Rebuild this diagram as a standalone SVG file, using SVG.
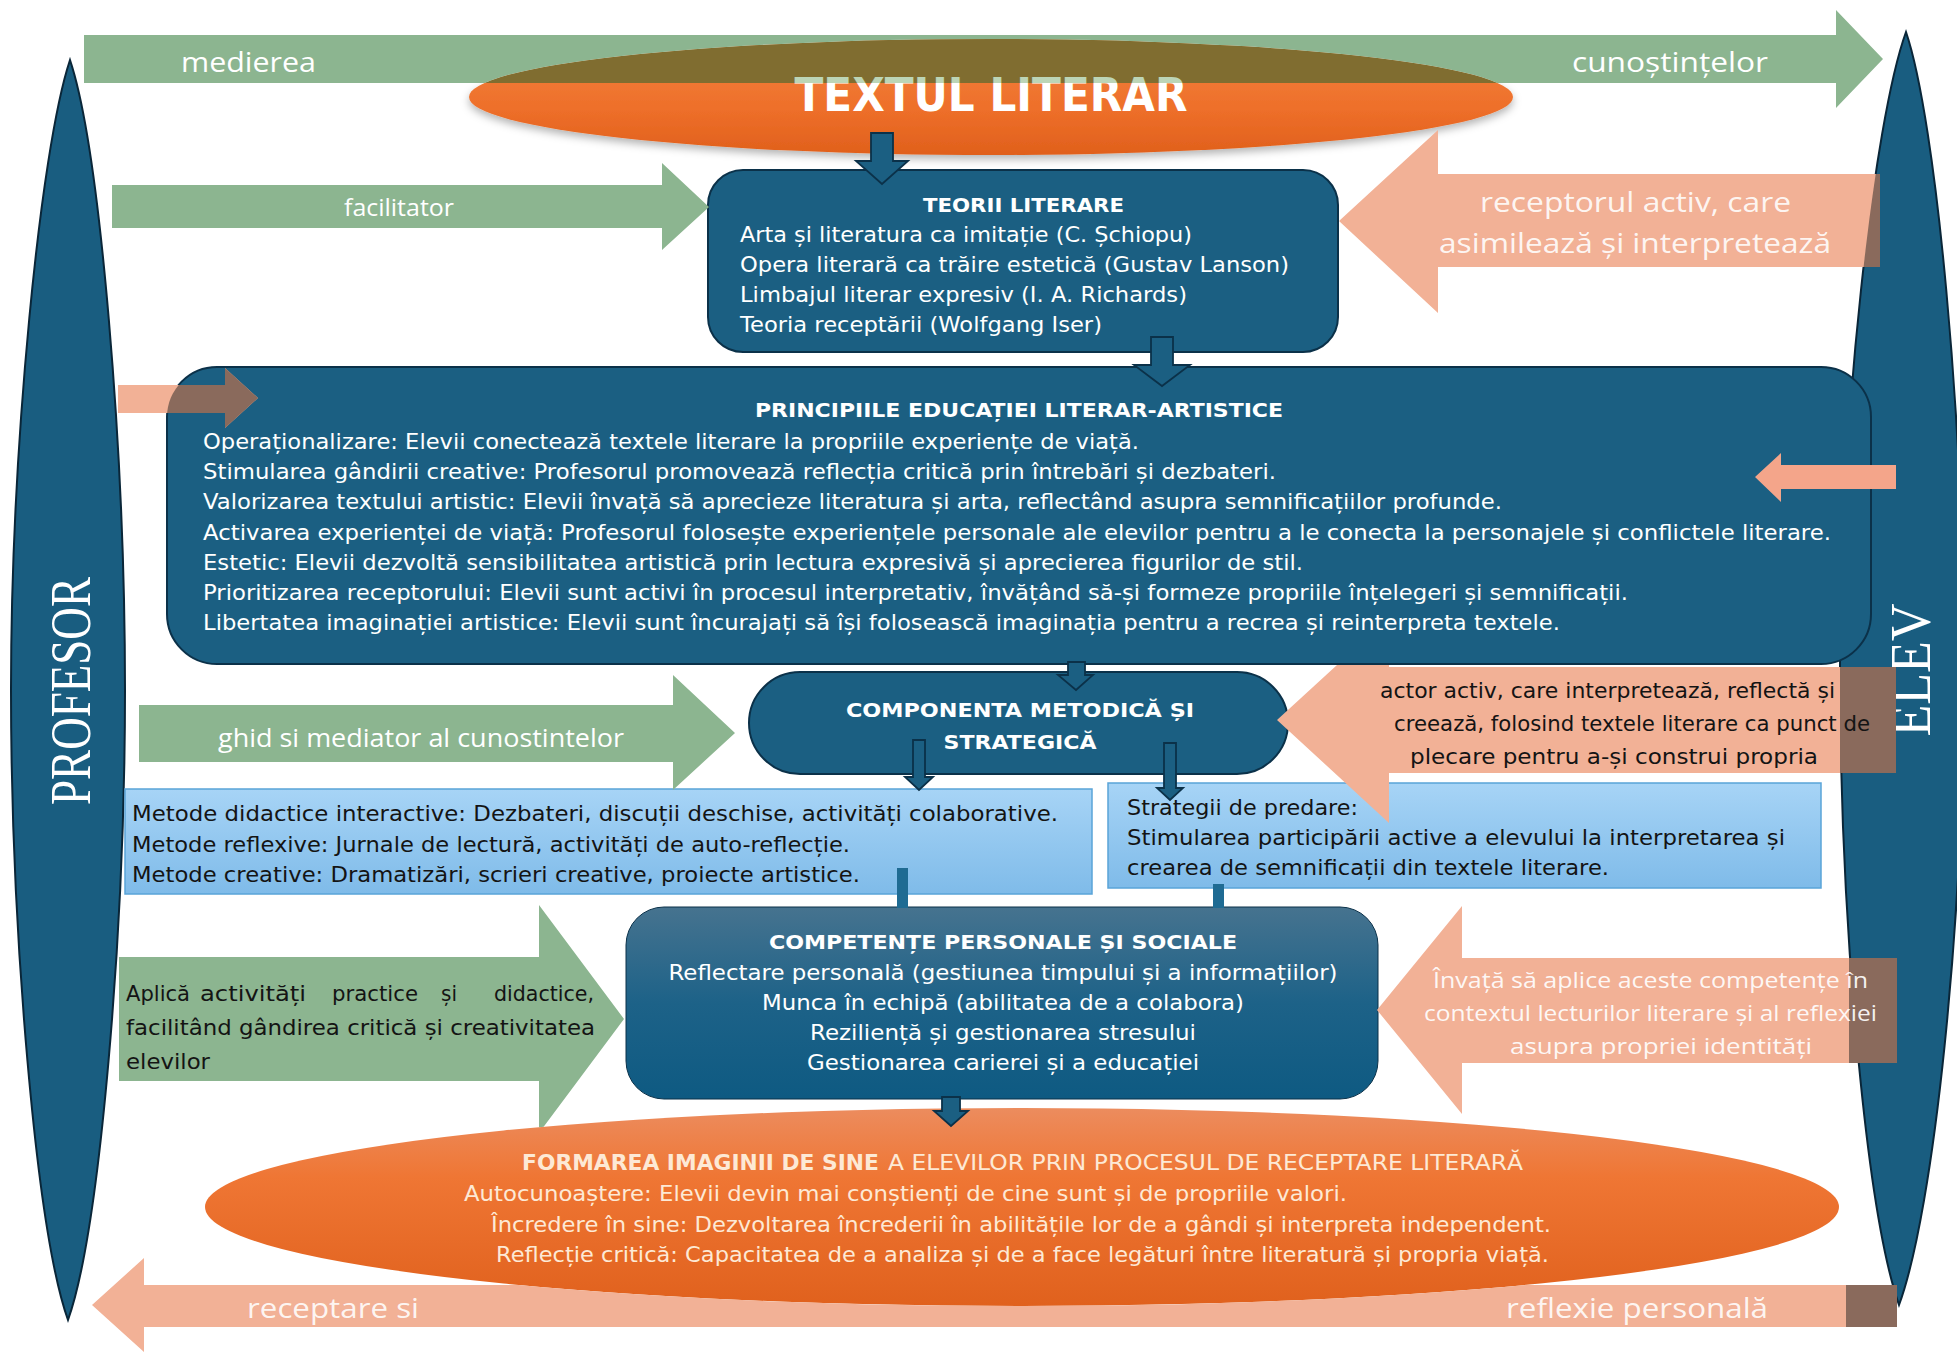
<svg xmlns="http://www.w3.org/2000/svg" width="1957" height="1352" viewBox="0 0 1957 1352">
<defs>
<style>
.dk{fill:#1b5f82;stroke:#0b3149;stroke-width:2}
.sp{fill:#195d80;stroke:#0a2638;stroke-width:2}
.lb{fill:url(#lbg);stroke:#5aa4d8;stroke-width:1.5}
.gr{fill:#8cb590}
.pe{fill:#f2b196}
.pe2{fill:#f4a58a}
.br{fill:#8a6a5c}
.ar{fill:#1b5f82;stroke:#0b3149;stroke-width:1.8}
.bar{fill:#1f6b93}
.t{font-family:"DejaVu Sans","Liberation Sans",sans-serif}
.w{fill:#ffffff}
.d{fill:#141414}
.cr{fill:#fde9d5}
.b{font-weight:bold}
.lab{font-family:"Open Sans","DejaVu Sans",sans-serif;fill:#ffffff}
.sf{font-family:"Liberation Serif","DejaVu Serif",serif;fill:#ffffff}
</style>
<linearGradient id="lbg" x1="0" y1="0" x2="0" y2="1"><stop offset="0" stop-color="#a7d4f6"/><stop offset="1" stop-color="#7fbbe9"/></linearGradient>
<linearGradient id="cg" x1="0" y1="0" x2="0" y2="1"><stop offset="0" stop-color="#46738f"/><stop offset="0.5" stop-color="#1d6288"/><stop offset="1" stop-color="#0e5a82"/></linearGradient>
<linearGradient id="og" x1="0" y1="0" x2="0" y2="1"><stop offset="0" stop-color="#f2843f"/><stop offset="0.6" stop-color="#ee6f2a"/><stop offset="1" stop-color="#e0601c"/></linearGradient>
<linearGradient id="og2" x1="0" y1="0" x2="0" y2="1"><stop offset="0" stop-color="#ec8c5e"/><stop offset="0.35" stop-color="#ef7634"/><stop offset="1" stop-color="#e0611d"/></linearGradient>
<linearGradient id="tg" gradientUnits="userSpaceOnUse" x1="0" y1="70" x2="0" y2="115"><stop offset="0" stop-color="#bcd5b7"/><stop offset="0.29" stop-color="#bcd5b7"/><stop offset="0.29" stop-color="#ffffff"/><stop offset="1" stop-color="#ffffff"/></linearGradient>
<filter id="sh" x="-5%" y="-20%" width="110%" height="160%"><feDropShadow dx="0" dy="4" stdDeviation="4" flood-color="#000" flood-opacity="0.3"/></filter>
<clipPath id="shaftTop"><rect x="0" y="35" width="1957" height="48"/></clipPath>
<clipPath id="notTopEll"><path clip-rule="evenodd" d="M0,0 H1957 V1352 H0 Z M469,97 A522,58 0 1,0 1513,97 A522,58 0 1,0 469,97 Z"/></clipPath>
<clipPath id="notBotEll"><path clip-rule="evenodd" d="M0,0 H1957 V1352 H0 Z M205,1207 A817,99 0 1,0 1839,1207 A817,99 0 1,0 205,1207 Z"/></clipPath>
<clipPath id="teoriiClip"><rect x="708" y="170" width="630" height="166"/></clipPath>
<clipPath id="princBox"><rect x="167" y="367" width="1704" height="297" rx="50"/></clipPath>
<clipPath id="rSpindle"><path d="M1906,32 C1936,120 1964,420 1964,668 C1964,920 1934,1210 1899,1305 C1866,1210 1840,920 1840,668 C1840,420 1874,120 1906,32 Z"/></clipPath>
<clipPath id="actorShaft"><rect x="1277" y="667" width="619" height="106"/></clipPath>
<clipPath id="invataShaft"><rect x="1377" y="958" width="520" height="105"/></clipPath>
<clipPath id="botShaft"><rect x="144" y="1285" width="1753" height="42"/></clipPath>
</defs>
<rect width="1957" height="1352" fill="#ffffff"/>

<g id="profesor">
<path class="sp" d="M70,60 C100,150 125,450 125,690 C125,930 100,1230 68,1320 C36,1230 11,930 11,690 C11,450 40,150 70,60 Z"/>
<text class="sf" transform="translate(90,691) rotate(-90)" text-anchor="middle" font-size="56" textLength="228" lengthAdjust="spacingAndGlyphs">PROFESOR</text>
</g>

<g id="elev">
<path class="sp" d="M1906,32 C1936,120 1964,420 1964,668 C1964,920 1934,1210 1899,1305 C1866,1210 1840,920 1840,668 C1840,420 1874,120 1906,32 Z"/>
<text class="sf" transform="translate(1930,670) rotate(-90)" text-anchor="middle" font-size="58" textLength="133" lengthAdjust="spacingAndGlyphs">ELEV</text>
</g>

<g id="textul-literar">
<ellipse cx="991" cy="97" rx="522" ry="58" fill="url(#og)" filter="url(#sh)"/>
<ellipse cx="991" cy="97" rx="522" ry="58" fill="#806d30" clip-path="url(#shaftTop)"/>
<text class="t b" x="991" y="111" text-anchor="middle" font-size="46" textLength="393" lengthAdjust="spacingAndGlyphs" fill="url(#tg)">TEXTUL LITERAR</text>
</g>

<g id="teorii-literare">
<rect class="dk" x="708" y="170" width="630" height="182" rx="35"/>
<text class="t b w" x="1023.5" y="212" text-anchor="middle" font-size="20" textLength="201" lengthAdjust="spacingAndGlyphs">TEORII LITERARE</text>
<g clip-path="url(#teoriiClip)" class="t w" font-size="21">
<text x="740" y="242" textLength="452" lengthAdjust="spacingAndGlyphs">Arta și literatura ca imitație (C. Șchiopu)</text>
<text x="740" y="272" textLength="549" lengthAdjust="spacingAndGlyphs">Opera literară ca trăire estetică (Gustav Lanson)</text>
<text x="740" y="302" textLength="447" lengthAdjust="spacingAndGlyphs">Limbajul literar expresiv (I. A. Richards)</text>
<text x="740" y="332" textLength="362" lengthAdjust="spacingAndGlyphs">Teoria receptării (Wolfgang Iser)</text>
</g>
</g>

<g id="principii">
<rect class="dk" x="167" y="367" width="1704" height="297" rx="50"/>
<text class="t b w" x="1019" y="417" text-anchor="middle" font-size="20" textLength="528" lengthAdjust="spacingAndGlyphs">PRINCIPIILE EDUCAȚIEI LITERAR-ARTISTICE</text>
<g class="t w" font-size="21">
<text x="203" y="449" textLength="936" lengthAdjust="spacingAndGlyphs">Operaționalizare: Elevii conectează textele literare la propriile experiențe de viață.</text>
<text x="203" y="479" textLength="1073" lengthAdjust="spacingAndGlyphs">Stimularea gândirii creative: Profesorul promovează reflecția critică prin întrebări și dezbateri.</text>
<text x="203" y="509" textLength="1299" lengthAdjust="spacingAndGlyphs">Valorizarea textului artistic: Elevii învață să aprecieze literatura și arta, reflectând asupra semnificațiilor profunde.</text>
<text x="203" y="540" textLength="1628" lengthAdjust="spacingAndGlyphs">Activarea experienței de viață: Profesorul folosește experiențele personale ale elevilor pentru a le conecta la personajele și conflictele literare.</text>
<text x="203" y="570" textLength="1100" lengthAdjust="spacingAndGlyphs">Estetic: Elevii dezvoltă sensibilitatea artistică prin lectura expresivă și aprecierea figurilor de stil.</text>
<text x="203" y="600" textLength="1425" lengthAdjust="spacingAndGlyphs">Prioritizarea receptorului: Elevii sunt activi în procesul interpretativ, învățând să-și formeze propriile înțelegeri și semnificații.</text>
<text x="203" y="630" textLength="1357" lengthAdjust="spacingAndGlyphs">Libertatea imaginației artistice: Elevii sunt încurajați să își folosească imaginația pentru a recrea și reinterpreta textele.</text>
</g>
</g>

<g id="componenta">
<rect class="dk" x="749" y="672" width="539" height="102" rx="51"/>
<text class="t b w" x="1020" y="717" text-anchor="middle" font-size="20" textLength="348" lengthAdjust="spacingAndGlyphs">COMPONENTA METODICĂ ȘI</text>
<text class="t b w" x="1020" y="749" text-anchor="middle" font-size="20" textLength="153" lengthAdjust="spacingAndGlyphs">STRATEGICĂ</text>
</g>

<g id="metode">
<rect class="lb" x="125" y="789" width="967" height="105"/>
<g class="t d" font-size="21">
<text x="132" y="821" textLength="926" lengthAdjust="spacingAndGlyphs">Metode didactice interactive: Dezbateri, discuții deschise, activități colaborative.</text>
<text x="132" y="852" textLength="718" lengthAdjust="spacingAndGlyphs">Metode reflexive: Jurnale de lectură, activități de auto-reflecție.</text>
<text x="132" y="882" textLength="728" lengthAdjust="spacingAndGlyphs">Metode creative: Dramatizări, scrieri creative, proiecte artistice.</text>
</g>
</g>

<g id="strategii">
<rect class="lb" x="1108" y="783" width="713" height="105"/>
<g class="t d" font-size="21">
<text x="1127" y="815" textLength="231" lengthAdjust="spacingAndGlyphs">Strategii de predare:</text>
<text x="1127" y="845" textLength="658" lengthAdjust="spacingAndGlyphs">Stimularea participării active a elevului la interpretarea și</text>
<text x="1127" y="875" textLength="482" lengthAdjust="spacingAndGlyphs">crearea de semnificații din textele literare.</text>
</g>
</g>

<g id="competente">
<rect x="626" y="907" width="752" height="192" rx="38" fill="url(#cg)" stroke="#0b3149" stroke-width="1"/>
<g class="t w" font-size="21" text-anchor="middle">
<text class="b" x="1003" y="949" font-size="20" textLength="468" lengthAdjust="spacingAndGlyphs">COMPETENȚE PERSONALE ȘI SOCIALE</text>
<text x="1003" y="980" textLength="669" lengthAdjust="spacingAndGlyphs">Reflectare personală (gestiunea timpului și a informațiilor)</text>
<text x="1003" y="1010" textLength="482" lengthAdjust="spacingAndGlyphs">Munca în echipă (abilitatea de a colabora)</text>
<text x="1003" y="1040" textLength="386" lengthAdjust="spacingAndGlyphs">Reziliență și gestionarea stresului</text>
<text x="1003" y="1070" textLength="392" lengthAdjust="spacingAndGlyphs">Gestionarea carierei și a educației</text>
</g>
</g>

<g id="formarea">
<ellipse cx="1022" cy="1207" rx="817" ry="99" fill="url(#og2)"/>
<g class="t cr" font-size="21">
<text y="1170"><tspan class="b" x="522" textLength="357" lengthAdjust="spacingAndGlyphs">FORMAREA IMAGINII DE SINE</tspan> <tspan x="888" textLength="635" lengthAdjust="spacingAndGlyphs">A ELEVILOR PRIN PROCESUL DE RECEPTARE LITERARĂ</tspan></text>
<text x="464" y="1201" textLength="883" lengthAdjust="spacingAndGlyphs">Autocunoaștere: Elevii devin mai conștienți de cine sunt și de propriile valori.</text>
<text x="491" y="1232" textLength="1060" lengthAdjust="spacingAndGlyphs">Încredere în sine: Dezvoltarea încrederii în abilitățile lor de a gândi și interpreta independent.</text>
<text x="496" y="1262" textLength="1053" lengthAdjust="spacingAndGlyphs">Reflecție critică: Capacitatea de a analiza și de a face legături între literatură și propria viață.</text>
</g>
</g>

<g id="connectors">
<path class="gr" clip-path="url(#notTopEll)" d="M84,35 H1836 V10 L1883,59 L1836,108 V83 H84 Z"/>
<text class="lab" x="181" y="72" font-size="28" textLength="135" lengthAdjust="spacingAndGlyphs">medierea</text>
<text class="lab" x="1572" y="72" font-size="28" textLength="196" lengthAdjust="spacingAndGlyphs">cunoștințelor</text>

<path class="ar" d="M871,133 H893 V161 H908 L882,184 L856,161 H871 Z"/>

<path class="gr" d="M112,185 H662 V163 L709,207 L662,250 V228 H112 Z"/>
<text class="lab" x="344" y="216" font-size="23" textLength="110" lengthAdjust="spacingAndGlyphs">facilitator</text>

<path class="pe" d="M1880,174 H1438 V130 L1339,221 L1438,313 V267 H1880 Z"/>
<rect class="br" x="1840" y="174" width="40" height="93" clip-path="url(#rSpindle)"/>
<text class="lab" x="1480" y="212" font-size="28" textLength="311" lengthAdjust="spacingAndGlyphs" fill-opacity="0.9">receptorul activ, care</text>
<text class="lab" x="1439" y="253" font-size="28" textLength="392" lengthAdjust="spacingAndGlyphs" fill-opacity="0.9">asimilează și interpretează</text>

<path class="ar" d="M1151,337 H1173 V365 H1190 L1162,386 L1134,365 H1151 Z"/>

<path class="pe" d="M118,385 H225 V368 L258,398 L225,428 V413 H118 Z"/>
<path class="br" clip-path="url(#princBox)" d="M118,385 H225 V368 L258,398 L225,428 V413 H118 Z"/>
<path class="pe2" d="M1896,465 H1781 V453 L1755,477 L1781,502 V489 H1896 Z"/>

<path class="ar" d="M1068,662 H1085 V675 H1093 L1076,690 L1058,675 H1068 Z"/>

<path class="gr" d="M139,705 H673 V675 L735,733 L673,790 V762 H139 Z"/>
<text class="lab" x="218" y="747" font-size="26" textLength="406" lengthAdjust="spacingAndGlyphs">ghid si mediator al cunostintelor</text>

<path class="ar" d="M913,740 H925 V777 H933 L919,790 L905,777 H913 Z"/>
<path class="ar" d="M1164,743 H1176 V788 H1183 L1170,800 L1157,788 H1164 Z"/>

<path class="pe" d="M1896,667 H1389 V665 H1337 L1277,720 L1389,823 V773 H1896 Z"/>
<rect class="br" x="1840" y="667" width="56" height="106"/>
<g clip-path="url(#actorShaft)" class="t d" font-size="21">
<text x="1380" y="698" textLength="455" lengthAdjust="spacingAndGlyphs">actor activ, care interpretează, reflectă și</text>
<text x="1394" y="731" textLength="476" lengthAdjust="spacingAndGlyphs">creează, folosind textele literare ca punct de</text>
<text x="1410" y="764" textLength="408" lengthAdjust="spacingAndGlyphs">plecare pentru a-și construi propria</text>
</g>

<rect class="bar" x="897" y="868" width="11" height="40"/>
<rect class="bar" x="1213" y="884" width="11" height="24"/>

<path class="gr" clip-path="url(#notBotEll)" d="M119,957 H539 V905 L624,1019 L539,1133 V1081 H119 Z"/>
<g class="t d" font-size="21">
<text y="1001"><tspan x="126" textLength="64" lengthAdjust="spacingAndGlyphs">Aplică</tspan> <tspan x="200" textLength="106" lengthAdjust="spacingAndGlyphs">activități</tspan> <tspan x="332" textLength="86" lengthAdjust="spacingAndGlyphs">practice</tspan> <tspan x="441" textLength="16" lengthAdjust="spacingAndGlyphs">și</tspan> <tspan x="494" textLength="100" lengthAdjust="spacingAndGlyphs">didactice,</tspan></text>
<text x="126" y="1035" textLength="469" lengthAdjust="spacingAndGlyphs">facilitând gândirea critică și creativitatea</text>
<text x="126" y="1069" textLength="84" lengthAdjust="spacingAndGlyphs">elevilor</text>
</g>

<path class="pe" d="M1897,958 H1462 V906 L1377,1010 L1462,1114 V1063 H1897 Z"/>
<rect class="br" x="1849" y="958" width="48" height="105"/>
<g clip-path="url(#invataShaft)" class="lab" font-size="21" fill-opacity="0.92">
<text x="1433" y="988" textLength="435" lengthAdjust="spacingAndGlyphs">Învață să aplice aceste competențe în</text>
<text x="1424" y="1021" textLength="453" lengthAdjust="spacingAndGlyphs">contextul lecturilor literare și al reflexiei</text>
<text x="1510" y="1054" textLength="302" lengthAdjust="spacingAndGlyphs">asupra propriei identități</text>
</g>

<path class="ar" d="M942,1097 H960 V1111 H968 L951,1126 L934,1111 H942 Z"/>

<path class="pe" clip-path="url(#notBotEll)" d="M1897,1285 H144 V1258 L92,1305 L144,1352 V1327 H1897 Z"/>
<rect class="br" x="1846" y="1285" width="51" height="42"/>
<g clip-path="url(#botShaft)" class="lab" font-size="28" fill-opacity="0.9">
<text x="247" y="1318" textLength="172" lengthAdjust="spacingAndGlyphs">receptare si</text>
<text x="1506" y="1318" textLength="262" lengthAdjust="spacingAndGlyphs">reflexie personală</text>
</g>
</g>
</svg>
